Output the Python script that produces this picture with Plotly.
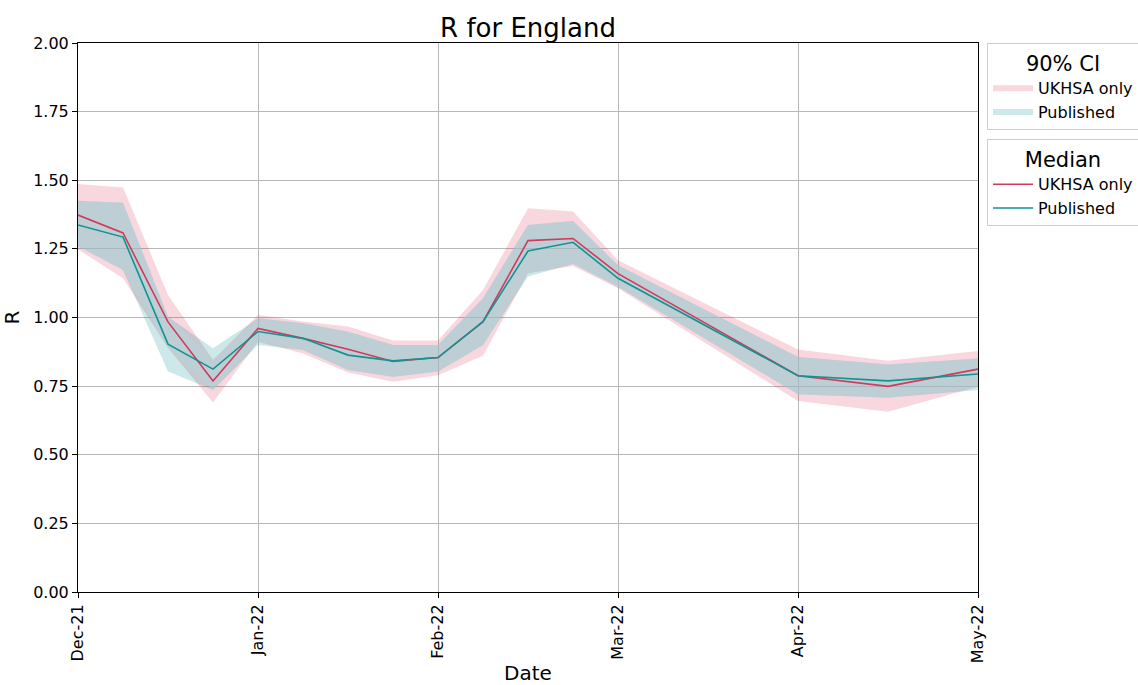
import plotly.graph_objects as go

# ---- data ----
x_idx = [0, 1, 2, 3, 4, 5, 6, 7, 8, 9, 10, 11, 12, 16, 18, 20]
tick_vals = [0, 4, 8, 12, 16, 20]
tick_text = ["Dec-21", "Jan-22", "Feb-22", "Mar-22", "Apr-22", "May-22"]

ukhsa_median = [1.373, 1.308, 0.984, 0.769, 0.960, 0.924, 0.884, 0.840, 0.854, 0.985,
                1.280, 1.288, 1.160, 0.788, 0.749, 0.812]
pub_median = [1.337, 1.293, 0.903, 0.812, 0.949, 0.924, 0.863, 0.842, 0.854, 0.985,
              1.242, 1.274, 1.143, 0.788, 0.769, 0.794]

ukhsa_upper = [1.486, 1.474, 1.082, 0.845, 1.009, 0.985, 0.967, 0.916, 0.916, 1.100,
               1.398, 1.386, 1.209, 0.883, 0.842, 0.878]
ukhsa_lower = [1.248, 1.143, 0.890, 0.690, 0.912, 0.869, 0.800, 0.766, 0.790, 0.861,
               1.161, 1.188, 1.107, 0.696, 0.657, 0.748]
pub_upper = [1.425, 1.418, 1.003, 0.888, 0.997, 0.979, 0.948, 0.900, 0.900, 1.070,
             1.337, 1.352, 1.190, 0.856, 0.829, 0.851]
pub_lower = [1.260, 1.173, 0.803, 0.736, 0.900, 0.882, 0.809, 0.784, 0.803, 0.900,
             1.149, 1.195, 1.112, 0.720, 0.708, 0.736]

RED = "#d2395a"
TEAL = "#129393"
FONT = "DejaVu Sans"


def band(upper, lower):
    return x_idx + x_idx[::-1], list(upper) + list(lower)[::-1]


fig = go.Figure()

bx, by = band(ukhsa_upper, ukhsa_lower)
fig.add_trace(go.Scatter(x=bx, y=by, fill="toself", mode="none",
                         fillcolor="rgba(220,20,60,0.17)", name="UKHSA only",
                         legend="legend", hoverinfo="skip"))
bx, by = band(pub_upper, pub_lower)
fig.add_trace(go.Scatter(x=bx, y=by, fill="toself", mode="none",
                         fillcolor="rgba(0,139,139,0.2)", name="Published",
                         legend="legend", hoverinfo="skip"))
ov_u = [min(a, b) for a, b in zip(ukhsa_upper, pub_upper)]
ov_l = [max(a, b) for a, b in zip(ukhsa_lower, pub_lower)]
bx, by = band(ov_u, ov_l)
fig.add_trace(go.Scatter(x=bx, y=by, fill="toself", mode="none",
                         fillcolor="rgba(180,214,220,0.55)", showlegend=False,
                         hoverinfo="skip"))

fig.add_trace(go.Scatter(x=x_idx, y=ukhsa_median, mode="lines",
                         line=dict(color=RED, width=1.6), name="UKHSA only",
                         legend="legend2"))
fig.add_trace(go.Scatter(x=x_idx, y=pub_median, mode="lines",
                         line=dict(color=TEAL, width=1.6), name="Published",
                         legend="legend2"))

axis_common = dict(showline=True, linecolor="black", linewidth=1, mirror=True,
                   ticks="outside", ticklen=5, tickcolor="black",
                   showgrid=True, gridcolor="#b8b8b8", gridwidth=1,
                   zeroline=False, automargin=False,
                   tickfont=dict(size=16, color="black", family=FONT))

fig.update_xaxes(range=[0, 20], tickvals=tick_vals, ticktext=tick_text,
                 tickangle=-90,
                 title=dict(text="Date", font=dict(size=20, family=FONT, color="black"),
                            standoff=6),
                 **axis_common)
fig.update_yaxes(range=[0, 2], dtick=0.25, tickformat=".2f",
                 title=dict(text="R", font=dict(size=20, family=FONT, color="black"),
                            standoff=10),
                 **axis_common)

legend_common = dict(xref="container", yref="container", x=987 / 1138, xanchor="left",
                     yanchor="top", bgcolor="white", bordercolor="#cccccc",
                     borderwidth=1, font=dict(size=16, family=FONT, color="black"),
                     tracegroupgap=0, itemwidth=40)

fig.update_layout(
    width=1138, height=685,
    margin=dict(l=78, r=160, t=43, b=93, autoexpand=False),
    paper_bgcolor="white", plot_bgcolor="white",
    font=dict(family=FONT, color="black"),
    title=dict(text="R for England", x=528 / 1138, xref="container", xanchor="center",
               y=1 - 28 / 685, yref="container", yanchor="middle",
               font=dict(size=26, family=FONT, color="black")),
    legend=dict(y=1 - 43 / 685, title=dict(text="90% CI", side="top center",
                                           font=dict(size=21, family=FONT)),
                **legend_common),
    legend2=dict(y=1 - 139 / 685, title=dict(text="Median", side="top center",
                                             font=dict(size=21, family=FONT)),
                 **legend_common),
    showlegend=True,
)

fig.write_html("out.html", config={"displayModeBar": False},
               post_script="document.body.style.margin='0px';"
                           "document.body.style.overflow='hidden';")
